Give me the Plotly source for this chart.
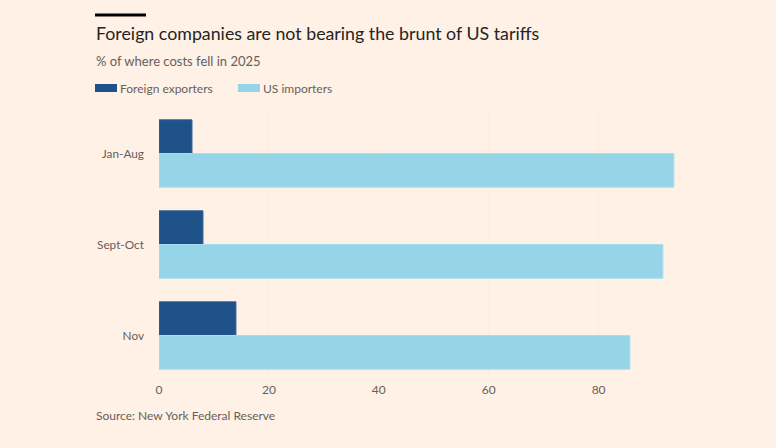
import plotly.graph_objects as go

categories = ["Jan-Aug", "Sept-Oct", "Nov"]
foreign_exporters = [6, 8, 14]
us_importers = [93.7, 91.7, 85.7]
series_names = ["Foreign exporters", "US importers"]
x_ticks = [0, 20, 40, 60, 80]

BG = "#FFF1E5"
C_FOREIGN = "#1f5289"
C_US = "#96d4e7"
FONT = "Lato"

W, H = 776, 448
L, R, T, B = 159, 84, 108, 67
PW, PH = W - L - R, H - T - B


def px(x):
    return (x - L) / PW


def py(y):
    return (H - B - y) / PH


fig = go.Figure()
fig.add_trace(go.Bar(y=categories, x=foreign_exporters, orientation="h", name=series_names[0],
                     marker=dict(color=C_FOREIGN, line=dict(color="#2d6299", width=1)),
                     showlegend=False))
fig.add_trace(go.Bar(y=categories, x=us_importers, orientation="h", name=series_names[1],
                     marker=dict(color=C_US, line=dict(color="#a6ddef", width=1)),
                     showlegend=False))

shapes = [
    dict(type="rect", xref="paper", yref="paper", x0=px(95), x1=px(146), y0=py(16.5), y1=py(13.5),
         fillcolor="#000000", line=dict(width=0)),
    dict(type="rect", xref="paper", yref="paper", x0=px(95), x1=px(117), y0=py(92), y1=py(84),
         fillcolor=C_FOREIGN, line=dict(width=0)),
    dict(type="rect", xref="paper", yref="paper", x0=px(238), x1=px(260), y0=py(92), y1=py(84),
         fillcolor=C_US, line=dict(width=0)),
]

annotations = [
    dict(text="Foreign companies are not bearing the brunt of US tariffs", xref="paper", yref="paper",
         x=px(94), y=py(33), xanchor="left", yanchor="middle", showarrow=False,
         font=dict(family=FONT, size=17.8, color="#262422")),
    dict(text="% of where costs fell in 2025", xref="paper", yref="paper",
         x=px(94), y=py(61), xanchor="left", yanchor="middle", showarrow=False,
         font=dict(family=FONT, size=13, color="#66605c")),
    dict(text=series_names[0], xref="paper", yref="paper",
         x=px(118), y=py(88), xanchor="left", yanchor="middle", showarrow=False,
         font=dict(family=FONT, size=12, color="#66605c")),
    dict(text=series_names[1], xref="paper", yref="paper",
         x=px(261), y=py(88), xanchor="left", yanchor="middle", showarrow=False,
         font=dict(family=FONT, size=12, color="#66605c")),
    dict(text="Source: New York Federal Reserve", xref="paper", yref="paper",
         x=px(94), y=py(415), xanchor="left", yanchor="middle", showarrow=False,
         font=dict(family=FONT, size=12, color="#66605c")),
]

fig.update_layout(
    width=W, height=H,
    margin=dict(l=L, r=R, t=T, b=B, pad=0),
    paper_bgcolor=BG, plot_bgcolor=BG,
    barmode="group", bargap=0.26, bargroupgap=0,
    shapes=shapes, annotations=annotations,
    font=dict(family=FONT, color="#66605c"),
    xaxis=dict(range=[0, 97], tickvals=x_ticks, ticktext=[str(v) for v in x_ticks],
               showgrid=True, gridcolor="#fdede1", gridwidth=1, zeroline=False,
               showline=False, ticks="", tickfont=dict(size=12, color="#66605c"), fixedrange=True),
    yaxis=dict(autorange="reversed", showgrid=False, zeroline=False, showline=False,
               ticks="", ticklabelstandoff=14, tickfont=dict(size=11.8, color="#66605c"), fixedrange=True),
)

fig.write_html("out.html")
